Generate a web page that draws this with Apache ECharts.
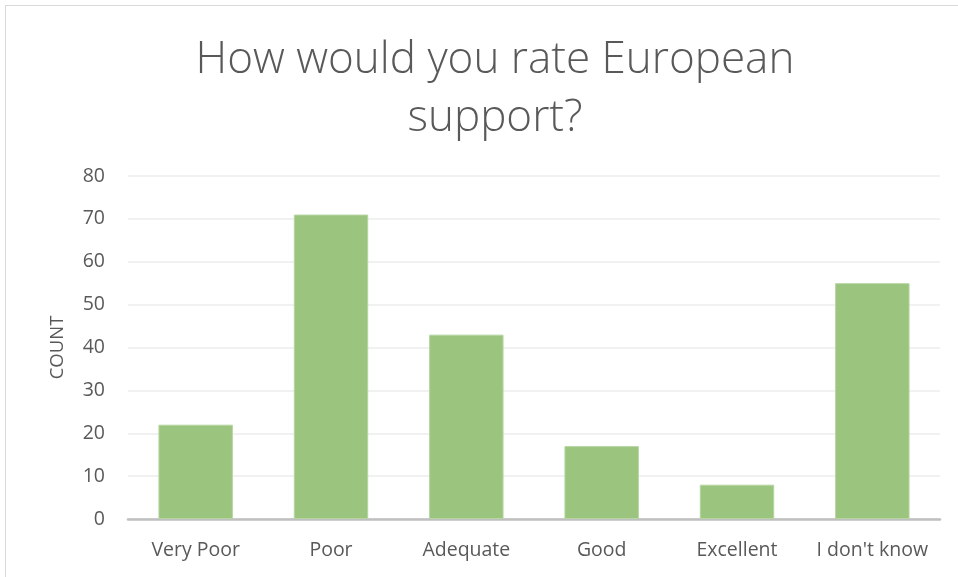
<!DOCTYPE html>
<html>
<head>
<meta charset="utf-8">
<script src="https://cdn.jsdelivr.net/npm/echarts@6/dist/echarts.min.js"></script>
<style>
  html, body { margin: 0; padding: 0; background: #fff; }
  #frame { position: absolute; left: 5px; top: 5px; width: 960px; height: 580px; border: 1px solid #d9d9d9; box-sizing: border-box; }
  #chart { position: absolute; left: 0; top: 0; width: 958px; height: 577px; }
</style>
</head>
<body>
<div id="frame"></div>
<div id="chart"></div>
<script>
// Survey answers and their counts
const categories = ['Very Poor', 'Poor', 'Adequate', 'Good', 'Excellent', "I don't know"];
const counts = [22, 71, 43, 17, 8, 55];
const titleText = 'How would you rate European\nsupport?';
const yAxisName = 'COUNT';

const chart = echarts.init(document.getElementById('chart'), null, { renderer: 'canvas' });
const textColor = '#595959';
const fontFamily = '"Open Sans", Lato, sans-serif';

chart.setOption({
  animation: false,
  title: {
    text: titleText,
    left: 490,
    top: 26,
    textAlign: 'center',
    textStyle: {
      fontFamily: fontFamily,
      fontWeight: 300,
      fontSize: 44,
      lineHeight: 58,
      color: textColor
    }
  },
  grid: { left: 128, right: 18, top: 176, bottom: 58, containLabel: false },
  xAxis: {
    type: 'category',
    data: categories,
    axisTick: { show: false },
    axisLine: { lineStyle: { color: '#bfbfbf', width: 2.5 } },
    axisLabel: { color: textColor, fontFamily: fontFamily, fontSize: 19.5, margin: 21, interval: 0 }
  },
  yAxis: {
    type: 'value',
    min: 0,
    max: 80,
    interval: 10,
    name: yAxisName,
    nameLocation: 'middle',
    nameGap: 61,
    nameRotate: 90,
    nameTextStyle: { color: textColor, fontFamily: fontFamily, fontSize: 18.5 },
    axisLine: { show: false },
    axisTick: { show: false },
    splitLine: { lineStyle: { color: '#ececec', width: 1.5 } },
    axisLabel: { color: textColor, fontFamily: fontFamily, fontSize: 19.5, margin: 23 }
  },
  series: [{
    type: 'bar',
    data: counts,
    barWidth: '55%',
    itemStyle: { color: '#9bc47e', borderColor: '#b5d6a0', borderWidth: 1 }
  }]
});
</script>
</body>
</html>
